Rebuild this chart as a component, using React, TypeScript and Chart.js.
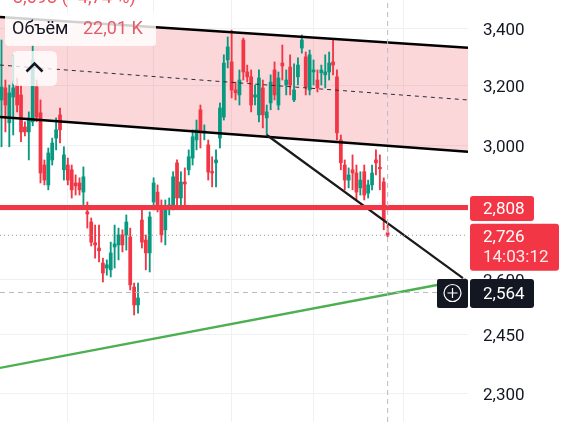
import React, { useEffect, useRef } from 'react';
import { Chart, registerables } from 'chart.js';

Chart.register(...registerables);

// ---------- candle data (one candle per session, index 0..99) ----------
const opens = [
  3151, 3192, 3075, 3161, 3202, 3168, 3061, 3045, 3078, 3195,
  3108, 2939, 2877, 2955, 3025, 3101, 2924, 2939, 2924, 2883,
  2883, 2855, 2795, 2765, 2704, 2689, 2646, 2632, 2627, 2692,
  2698, 2727, 2727, 2721, 2579, 2530, 2771, 2712, 2675, 2825,
  2855, 2810, 2742, 2807, 2816, 2946, 2837, 2886, 2924, 2961,
  3019, 3118, 3042, 3003, 2917, 2946, 3025, 3094, 3289, 3282,
  3185, 3168, 3360, 3247, 3230, 3161, 3101, 3192, 3091, 3141,
  3254, 3134, 3278, 3202, 3264, 3151, 3230, 3331, 3300, 3185,
  3247, 3219, 3244, 3237, 3247, 3282, 3230, 3019, 2939, 2892,
  2924, 2914, 2868, 2918, 2852, 2877, 2955, 2930, 2886, 2733,
];
const highs = [
  3360, 3219, 3202, 3307, 3226, 3202, 3078, 3111, 3342, 3219,
  3151, 2955, 2993, 3025, 3091, 3124, 2997, 2961, 2939, 2908,
  2899, 2933, 2825, 2777, 2756, 2756, 2660, 2655, 2706, 2756,
  2747, 2742, 2786, 2747, 2590, 2590, 2801, 2727, 2795, 2899,
  2877, 2831, 2831, 2837, 2918, 2955, 2918, 2930, 2987, 3052,
  3084, 3134, 3068, 3019, 2965, 2987, 3141, 3307, 3371, 3396,
  3212, 3254, 3367, 3271, 3254, 3202, 3254, 3219, 3134, 3237,
  3282, 3247, 3342, 3254, 3307, 3275, 3296, 3378, 3317, 3324,
  3289, 3254, 3271, 3307, 3317, 3360, 3254, 3035, 2955, 2930,
  2971, 2939, 2918, 2939, 2892, 2939, 2987, 2971, 2899, 2756,
];
const lows = [
  2997, 3045, 2997, 3035, 3111, 3013, 3032, 2955, 3065, 3078,
  2883, 2877, 2862, 2939, 2987, 3009, 2892, 2877, 2837, 2846,
  2846, 2810, 2747, 2695, 2660, 2649, 2593, 2612, 2607, 2632,
  2655, 2678, 2683, 2571, 2503, 2508, 2689, 2627, 2621, 2801,
  2795, 2706, 2698, 2786, 2801, 2816, 2816, 2816, 2908, 2939,
  2987, 2993, 3019, 2892, 2871, 2871, 2993, 3084, 3261, 3158,
  3151, 3134, 3219, 3212, 3111, 3134, 3078, 3058, 3035, 3118,
  3151, 3118, 3219, 3168, 3168, 3145, 3202, 3313, 3168, 3168,
  3202, 3178, 3202, 3192, 3219, 3237, 3019, 2924, 2862, 2868,
  2862, 2831, 2846, 2831, 2837, 2862, 2908, 2862, 2742, 2721,
];
const closes = [
  3195, 3134, 3175, 3192, 3134, 3045, 3045, 3091, 3289, 3094,
  2914, 2892, 2977, 3009, 3052, 3052, 2971, 2892, 2862, 2874,
  2862, 2902, 2789, 2706, 2698, 2681, 2618, 2641, 2675, 2701,
  2727, 2698, 2765, 2585, 2530, 2549, 2706, 2675, 2780, 2883,
  2810, 2727, 2807, 2816, 2902, 2837, 2886, 2880, 2965, 3029,
  3052, 3042, 3048, 2917, 2914, 2955, 3124, 3278, 3335, 3185,
  3175, 3219, 3247, 3230, 3134, 3168, 3226, 3101, 3111, 3212,
  3168, 3226, 3268, 3219, 3202, 3185, 3271, 3360, 3195, 3307,
  3254, 3192, 3254, 3247, 3278, 3271, 3042, 2946, 2892, 2908,
  2914, 2855, 2892, 2846, 2877, 2914, 2946, 2927, 2771, 2726,
];

// ---------- axis ticks ----------
const priceTicks = [2300, 2450, 2600, 2800, 3000, 3200, 3400];
const monthStartIdx = [17, 39, 59, 80, 103];

// ---------- drawings (prices at left / right ends) ----------
const channelTop = [3444, 3332];
const channelMid = [3271, 3151];
const channelBottom = [3094, 2981];
const trendIdx = [68, 118.3];
const trendPrice = [3035, 2604];
const supportIdx = [-0.385, 119.1];
const supportPrice = [2365, 2600];
const levelPrice = 2808;
const lastPrice = 2726;
const cursorPrice = 2564;
const cursorIdx = 99;
const lastTime = '14:03:12';
const volumeLabel = 'Объём';
const volumeValue = '22,01 K';
const headerText = '3,093 (−4,74 %)';

// ---------- view ----------
const X0 = -0.385;
const X1 = 119.6;
const Y0 = 2232;
const Y1 = 3507;
const UP = '#089981';
const DOWN = '#f23645';
const FONT = 'Roboto, "Noto Sans", sans-serif';

const fmt = (v: number) => v.toLocaleString('en-US');

function rr(ctx: CanvasRenderingContext2D, x: number, y: number, w: number, h: number, r: number) {
  ctx.beginPath();
  ctx.moveTo(x + r, y);
  ctx.lineTo(x + w - r, y);
  ctx.quadraticCurveTo(x + w, y, x + w, y + r);
  ctx.lineTo(x + w, y + h - r);
  ctx.quadraticCurveTo(x + w, y + h, x + w - r, y + h);
  ctx.lineTo(x + r, y + h);
  ctx.quadraticCurveTo(x, y + h, x, y + h - r);
  ctx.lineTo(x, y + r);
  ctx.quadraticCurveTo(x, y, x + r, y);
  ctx.closePath();
}

const overlayPlugin = {
  id: 'overlay',
  afterDraw(chart: any) {
    const ctx: CanvasRenderingContext2D = chart.ctx;
    const ys = chart.scales.y;
    const R = chart.chartArea.right;
    const f = (s: number) => `${s}px ${FONT}`;
    ctx.save();

    // header (cut off at top)
    ctx.font = f(18);
    ctx.textAlign = 'left';
    ctx.textBaseline = 'alphabetic';
    ctx.fillStyle = '#ef5361';
    ctx.fillText(headerText, 13, 3);

    // volume legend
    ctx.fillStyle = 'rgba(255,255,255,0.82)';
    rr(ctx, 5, 12, 151, 34, 4);
    ctx.fill();
    ctx.textBaseline = 'middle';
    ctx.fillStyle = '#131722';
    ctx.fillText(volumeLabel, 12, 29);
    ctx.fillStyle = '#e35d68';
    ctx.fillText(volumeValue, 83, 29);

    // collapse button
    ctx.fillStyle = 'rgba(255,255,255,0.78)';
    rr(ctx, 12, 51, 45, 35, 6);
    ctx.fill();
    ctx.strokeStyle = '#131722';
    ctx.lineWidth = 2.6;
    ctx.beginPath();
    ctx.moveTo(26.5, 71.5);
    ctx.lineTo(34.5, 63.5);
    ctx.lineTo(42.5, 71.5);
    ctx.stroke();

    // price tags
    ctx.font = f(17);
    const yl = ys.getPixelForValue(levelPrice);
    ctx.fillStyle = '#f23645';
    rr(ctx, R + 2, yl - 11.5, 64, 25, 3);
    ctx.fill();
    ctx.fillStyle = '#ffffff';
    ctx.fillText(fmt(levelPrice), R + 15, yl + 2);

    const yp = ys.getPixelForValue(lastPrice);
    ctx.fillStyle = '#f23645';
    rr(ctx, R + 2, yp - 11.5, 89, 47, 3);
    ctx.fill();
    ctx.fillStyle = '#ffffff';
    ctx.fillText(fmt(lastPrice), R + 15, yp + 2);
    ctx.fillStyle = 'rgba(255,255,255,0.9)';
    ctx.fillText(lastTime, R + 15, yp + 22);

    const yc = ys.getPixelForValue(cursorPrice);
    ctx.fillStyle = '#131722';
    rr(ctx, R + 2, yc - 13.5, 64, 29, 3);
    ctx.fill();
    rr(ctx, R - 31, yc - 13.5, 31, 29, 2);
    ctx.fill();
    ctx.fillStyle = '#ffffff';
    ctx.fillText(fmt(cursorPrice), R + 15, yc + 2);
    ctx.strokeStyle = '#ffffff';
    ctx.lineWidth = 1.2;
    const cx = R - 15.5;
    ctx.beginPath();
    ctx.arc(cx, yc + 0.5, 8.5, 0, Math.PI * 2);
    ctx.stroke();
    ctx.beginPath();
    ctx.moveTo(cx - 5, yc + 0.5);
    ctx.lineTo(cx + 5, yc + 0.5);
    ctx.moveTo(cx, yc - 4.5);
    ctx.lineTo(cx, yc + 5.5);
    ctx.stroke();

    ctx.restore();
  },
};

const seg = (xs: number[], ys: number[]) => [
  { x: xs[0], y: ys[0] },
  { x: xs[1], y: ys[1] },
];

export default function App() {
  const ref = useRef<HTMLCanvasElement>(null);

  useEffect(() => {
    const canvas = ref.current;
    if (!canvas) return;
    const colors = opens.map((o, i) => (closes[i] >= o ? UP : DOWN));
    const lineBase = { type: 'line' as const, pointRadius: 0, fill: false, tension: 0 };

    const chart = new Chart(canvas, {
      type: 'bar',
      data: {
        datasets: [
          {
            ...lineBase,
            data: seg([X0, X1], channelTop),
            borderColor: 'rgba(0,0,0,0)',
            borderWidth: 0,
            backgroundColor: 'rgba(242,54,69,0.2)',
            fill: '+1',
            order: 100,
          } as any,
          {
            ...lineBase,
            data: seg([X0, X1], channelBottom),
            borderColor: 'rgba(0,0,0,0)',
            borderWidth: 0,
            order: 99,
          } as any,
          {
            type: 'bar',
            data: opens.map((_, i) => ({ x: i, y: [lows[i], highs[i]] })),
            backgroundColor: colors,
            barThickness: 1.2,
            stack: 'candles',
            order: 50,
          } as any,
          {
            type: 'bar',
            data: opens.map((o, i) => ({ x: i, y: [o, closes[i]] })),
            backgroundColor: colors,
            barThickness: 3.1,
            minBarLength: 1.5,
            stack: 'candles',
            order: 40,
          } as any,
          {
            ...lineBase,
            data: seg([X0, X1], channelMid),
            borderColor: '#2a2e39',
            borderWidth: 1,
            borderDash: [4, 4],
            order: 12,
          } as any,
          {
            ...lineBase,
            data: seg([X0, X1], channelTop),
            borderColor: '#000000',
            borderWidth: 2.6,
            order: 10,
          } as any,
          {
            ...lineBase,
            data: seg([X0, X1], channelBottom),
            borderColor: '#000000',
            borderWidth: 2.6,
            order: 10,
          } as any,
          {
            ...lineBase,
            data: seg(trendIdx, trendPrice),
            borderColor: '#1a1a1a',
            borderWidth: 2.2,
            order: 9,
          } as any,
          {
            ...lineBase,
            data: seg(supportIdx, supportPrice),
            borderColor: '#4caf50',
            borderWidth: 2.4,
            order: 9,
          } as any,
          {
            ...lineBase,
            data: seg([X0, X1], [levelPrice, levelPrice]),
            borderColor: '#f23645',
            borderWidth: 5,
            order: 8,
          } as any,
          {
            ...lineBase,
            data: seg([X0, X1], [lastPrice, lastPrice]),
            borderColor: '#9598a1',
            borderWidth: 1,
            borderDash: [1, 3],
            order: 7,
          } as any,
          {
            ...lineBase,
            data: seg([X0, 111.9], [cursorPrice, cursorPrice]),
            borderColor: '#b8bbc4',
            borderWidth: 1,
            borderDash: [5, 4],
            order: 6,
          } as any,
          {
            ...lineBase,
            data: seg([cursorIdx, cursorIdx], [Y0, Y1]),
            borderColor: '#b8bbc4',
            borderWidth: 1,
            borderDash: [5, 4],
            order: 6,
          } as any,
        ],
      },
      options: {
        responsive: false,
        animation: false,
        events: [],
        layout: { padding: 0 },
        plugins: {
          legend: { display: false },
          tooltip: { enabled: false },
        },
        scales: {
          x: {
            type: 'linear',
            min: X0,
            max: X1,
            bounds: 'data',
            offset: false,
            stacked: true,
            ticks: { display: false },
            border: { display: false },
            grid: { color: '#eef0f3', drawTicks: false, offset: false },
            afterBuildTicks: (s: any) => {
              s.ticks = monthStartIdx.map((v) => ({ value: v }));
            },
            afterFit: (s: any) => {
              s.height = 0;
              s.paddingLeft = 0;
              s.paddingRight = 0;
            },
          },
          y: {
            type: 'logarithmic',
            position: 'right',
            min: Y0,
            max: Y1,
            bounds: 'data',
            stacked: false,
            border: { display: false },
            grid: { color: '#eef0f3', drawTicks: false },
            ticks: {
              color: '#131722',
              font: { family: FONT, size: 17 },
              padding: 15,
              labelOffset: 2,
              autoSkip: false,
              callback: (v: any) => fmt(Number(v)),
            },
            afterBuildTicks: (s: any) => {
              s.ticks = priceTicks.map((v) => ({ value: v }));
            },
            afterFit: (s: any) => {
              s.width = 95;
              s.paddingTop = 0;
              s.paddingBottom = 0;
            },
          },
        },
      } as any,
      plugins: [overlayPlugin],
    });

    return () => chart.destroy();
  }, []);

  return (
    <div style={{ position: 'fixed', left: 0, top: 0, width: 563, height: 422, background: '#ffffff' }}>
      <canvas ref={ref} width={563} height={422} style={{ display: 'block', width: 563, height: 422 }} />
    </div>
  );
}
